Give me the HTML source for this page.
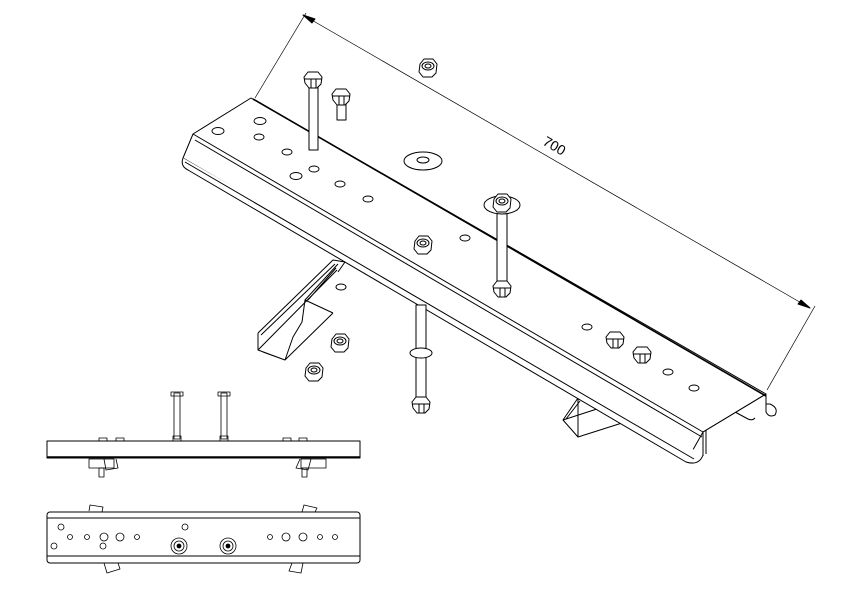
<!DOCTYPE html>
<html><head><style>
html,body{margin:0;padding:0;background:#fff;}
svg{display:block}
text{font-family:"Liberation Sans",sans-serif;}
</style></head><body>
<svg width="842" height="595" viewBox="0 0 842 595" xmlns="http://www.w3.org/2000/svg" fill="none" stroke="#000" stroke-width="1" stroke-linejoin="round">
<defs>
<g id="nut"><polygon points="-8,-4 -4,-9 5,-9 9,-4 8,5 4,9 -5,9 -9,4" fill="#fff"/><ellipse cx="0" cy="-2" rx="6" ry="4"/><ellipse cx="0" cy="-2" rx="3" ry="2"/></g>
<g id="hex"><polygon points="-9,-3 -5,-8 5,-8 9,-3 8,4 4,8 -4,8 -8,3" fill="#fff"/><line x1="-9" y1="-1" x2="9" y2="-1"/><line x1="-2" y1="-1" x2="-2" y2="8"/><line x1="3" y1="-1" x2="3" y2="8"/></g>
</defs>
<!-- dimension -->
<line x1="303" y1="15" x2="810" y2="308" stroke-width="0.7"/>
<line x1="306" y1="13" x2="255" y2="98" stroke-width="0.7"/>
<line x1="815" y1="306" x2="767" y2="390" stroke-width="0.7"/>
<polygon points="303,15 315,19 312,23" fill="#000"/>
<polygon points="810,308 798,304 801,300" fill="#000"/>
<text x="552" y="150" font-size="14" stroke="none" fill="#000" transform="rotate(30 552 150)" text-anchor="middle">700</text>
<!-- lower channel right -->
<path d="M578,398 L563,420 L578,437 L622,423 M563,420 L600,408 M578,398 L578,437 M578,398 L605,410 M566,419 L580,401" fill="#fff"/>
<!-- lower channel left -->
<path d="M258,333 L333,260 L345,262 L338,272 M258,333 L258,350 L285,360 L333,313 M263,352 L285,360 M258,350 L337,270 M261,335 L335,264 M285,360 L293,337 L302,322 L305,300 L338,264 M305,300 L333,313 M308,300 L336,268" fill="#fff"/>
<ellipse cx="341" cy="287" rx="5" ry="3"/>
<!-- beam flange -->
<path d="M193,134 L183,158 L690,455 L703,432" fill="#fff"/>
<path d="M183,158 Q180,166 188,170 L686,462 Q699,466 703,455" fill="#fff"/>
<line x1="185" y1="162" x2="694" y2="459"/>
<line x1="703" y1="432" x2="703" y2="456"/>
<line x1="706" y1="430" x2="706" y2="454"/>
<path d="M766,394 L766,412 Q769,418 775,415 Q779,408 770,404 L766,404" fill="#fff"/>
<path d="M735,412 L748,419 Q752,421 755,418" />
<line x1="195" y1="140" x2="702" y2="437"/>
<!-- top plate -->
<polygon points="193,134 251,98 766,394 703,432" fill="#fff"/>
<line x1="253" y1="99" x2="766" y2="396" stroke-width="1.6"/>
<line x1="703" y1="432" x2="766" y2="394"/>
<!-- holes -->
<g stroke-width="0.9">
<ellipse cx="218" cy="131" rx="6" ry="3.5"/><ellipse cx="260" cy="121" rx="6" ry="3.5"/><ellipse cx="259" cy="137" rx="5" ry="3"/>
<ellipse cx="287" cy="152" rx="5" ry="3"/><ellipse cx="296" cy="176" rx="6" ry="3.5"/><ellipse cx="314" cy="169" rx="5" ry="3"/>
<ellipse cx="340" cy="184" rx="5" ry="3"/><ellipse cx="368" cy="199" rx="5" ry="3"/><ellipse cx="465" cy="238" rx="5" ry="3"/>
<ellipse cx="587" cy="327" rx="5" ry="3"/><ellipse cx="668" cy="372" rx="5" ry="3"/><ellipse cx="694" cy="388" rx="5" ry="3"/>
</g>
<!-- bolts -->
<rect x="309" y="85" width="9" height="65" fill="#fff"/>
<use href="#hex" x="313" y="80"/>
<rect x="337" y="100" width="9" height="20" fill="#fff"/>
<use href="#hex" x="341" y="97"/>
<use href="#nut" x="428" y="68"/>
<ellipse cx="423" cy="161" rx="19" ry="9" fill="#fff"/><ellipse cx="423" cy="160" rx="6" ry="3"/>
<rect x="497" y="210" width="10" height="80" fill="#fff"/>
<ellipse cx="502" cy="205" rx="18" ry="9" fill="#fff"/>
<use href="#nut" x="502" y="203"/>
<use href="#hex" x="502" y="289"/>
<use href="#nut" x="423" y="245"/>
<use href="#hex" x="615" y="340"/><use href="#hex" x="642" y="355"/>
<use href="#nut" x="340" y="343"/><use href="#nut" x="314" y="372"/>
<rect x="416" y="305" width="10" height="100" fill="#fff"/>
<ellipse cx="421" cy="353" rx="11" ry="5" fill="#fff"/>
<use href="#hex" x="421" y="405"/>
<!-- side view -->
<rect x="47" y="441" width="313" height="17" fill="#fff"/>
<line x1="47" y1="457" x2="360" y2="457" stroke-width="1.5"/>
<g stroke-width="0.8">
<rect x="174" y="393" width="6" height="46"/><rect x="171" y="392" width="12" height="4"/><rect x="173" y="436" width="8" height="5"/>
<rect x="221" y="393" width="6" height="46"/><rect x="218" y="392" width="12" height="4"/><rect x="220" y="436" width="8" height="5"/>
<rect x="99" y="438" width="8" height="3"/><rect x="116" y="438" width="8" height="3"/>
<rect x="283" y="438" width="8" height="3"/><rect x="299" y="438" width="8" height="3"/>
<rect x="89" y="459" width="25" height="9"/><path d="M104,459 L106,470 L118,468 L116,459"/><rect x="99" y="468" width="5" height="9"/>
<rect x="301" y="459" width="25" height="9"/><path d="M300,459 L296,468 L308,470 L311,459"/><rect x="302" y="468" width="5" height="9"/>
</g>
<!-- bottom view -->
<rect x="47" y="512" width="313" height="51" rx="3" fill="#fff"/>
<line x1="47" y1="518" x2="360" y2="518"/><line x1="47" y1="556" x2="360" y2="556"/>
<g stroke-width="0.8">
<path d="M89,511 L90,505 L103,507 L102,512"/><path d="M302,512 L304,505 L317,508 L315,512"/>
<path d="M104,563 L107,573 L120,569 L118,563"/><path d="M292,563 L289,571 L301,573 L303,563"/>
<circle cx="61" cy="527" r="3"/><circle cx="54" cy="546" r="3"/><circle cx="70" cy="537" r="2.5"/><circle cx="87" cy="537" r="2.5"/>
<circle cx="104" cy="537" r="4"/><circle cx="120" cy="537" r="4"/><circle cx="103" cy="546" r="3"/><circle cx="137" cy="537" r="2.5"/>
<circle cx="185" cy="527" r="3"/>
<circle cx="179" cy="546" r="8"/><circle cx="179" cy="546" r="5"/><circle cx="179" cy="546" r="2" fill="#000"/>
<circle cx="228" cy="546" r="8"/><circle cx="228" cy="546" r="5"/><circle cx="228" cy="546" r="2" fill="#000"/>
<circle cx="270" cy="537" r="2.5"/><circle cx="286" cy="537" r="4"/><circle cx="303" cy="537" r="4"/><circle cx="320" cy="537" r="2.5"/><circle cx="335" cy="537" r="2.5"/>
</g>
</svg>
</body></html>
